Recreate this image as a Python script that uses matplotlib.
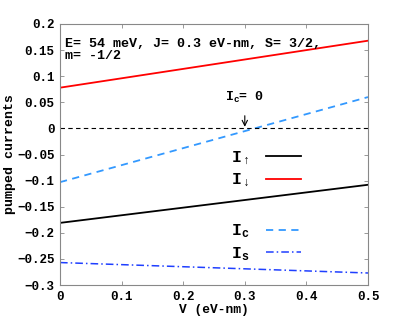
import numpy as np
import matplotlib
matplotlib.use('Agg')
import matplotlib.pyplot as plt

plt.rcParams['font.family'] = ['Liberation Mono', 'DejaVu Sans']
plt.rcParams['font.weight'] = 'bold'
plt.rcParams['mathtext.fontset'] = 'custom'
plt.rcParams['mathtext.rm'] = 'Liberation Mono:bold'
plt.rcParams['mathtext.it'] = 'Liberation Mono:bold'
plt.rcParams['mathtext.bf'] = 'Liberation Mono:bold'

# data (straight lines, endpoints)
V = [0.0, 0.5]
I_up = [-0.181, -0.108]
I_down = [0.078, 0.168]
I_c = [-0.103, 0.060]
I_s = [-0.257, -0.277]

fig = plt.figure(figsize=(4.07, 3.21), dpi=100)
ax = fig.add_axes([60/407, 1 - 285/321, 308/407, 261/321])

l_up, = ax.plot(V, I_up, color='black', lw=1.3)
l_down, = ax.plot(V, I_down, color='red', lw=1.3)
l_c, = ax.plot(V, I_c, color='#3399ff', lw=1.3, ls=(0, (4, 3)))
l_s, = ax.plot(V, I_s, color='#1f3fff', lw=1.1, ls=(0, (5, 2, 1, 2)))
ax.axhline(0, color='black', lw=0.8, ls=(0, (4, 3)))

ax.set_xlim(0, 0.5)
ax.set_ylim(-0.3, 0.2)
ax.set_xticks([0, 0.1, 0.2, 0.3, 0.4, 0.5])
ax.set_xticklabels(['0', '0.1', '0.2', '0.3', '0.4', '0.5'])
ax.set_yticks([-0.3, -0.25, -0.2, -0.15, -0.1, -0.05, 0, 0.05, 0.1, 0.15, 0.2])
ax.set_yticklabels(['\u22120.3', '\u22120.25', '\u22120.2', '\u22120.15', '\u22120.1',
                    '\u22120.05', '0', '0.05', '0.1', '0.15', '0.2'])
ax.tick_params(direction='in', top=True, right=True, length=3, width=0.6,
               color='#888888', labelsize=9, pad=4)
for s in ax.spines.values():
    s.set_color('#888888')
    s.set_linewidth(0.8)

ax.set_xlabel('V (eV-nm)', fontsize=9.3, fontweight='bold', labelpad=1)
ax.set_ylabel('pumped currents', fontsize=9.5, fontweight='bold', labelpad=1)

ax.text(0.015, 0.945, 'E= 54 meV, J= 0.3 eV-nm, S= 3/2,\nm= -1/2',
        transform=ax.transAxes, fontsize=9.6, fontweight='bold',
        va='top', ha='left', linespacing=1.0)

ax.annotate(r'$\mathrm{I_c}$= 0', xy=(0.3, 0.003), xytext=(0.3, 0.06),
            fontsize=9.5, fontweight='bold', ha='center', va='center',
            arrowprops=dict(arrowstyle='->', color='black', lw=0.8,
                            shrinkA=6, shrinkB=0))

leg_kw = dict(loc='upper left', frameon=False, fontsize=12, markerfirst=False,
              handlelength=2.1, handletextpad=1.0, borderpad=0, borderaxespad=0)
leg1 = ax.legend([l_up, l_down], [r'$\mathrm{I_{\uparrow}}$', r'$\mathrm{I_{\downarrow}}$'],
                 bbox_to_anchor=(0.555, 0.518), labelspacing=0.3, **leg_kw)
ax.add_artist(leg1)
ax.legend([l_c, l_s], [r'$\mathrm{I_c}$', r'$\mathrm{I_s}$'],
          bbox_to_anchor=(0.555, 0.24), labelspacing=0.3, **leg_kw)

fig.savefig('out.png', dpi=100)
